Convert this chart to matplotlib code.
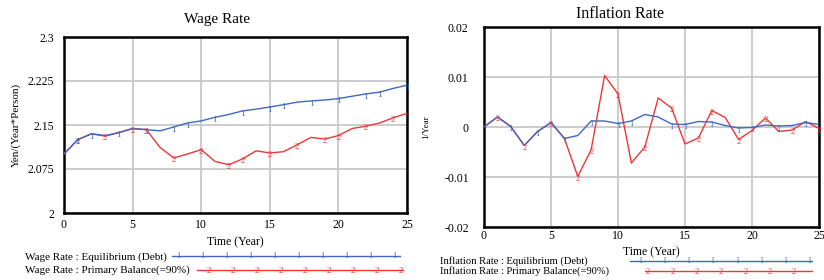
import matplotlib.pyplot as plt
import numpy as np

plt.rcParams['font.family'] = ['Liberation Serif', 'DejaVu Serif']

# data
years = np.arange(0, 26)
wage_eq = [2.1006, 2.125, 2.135, 2.132, 2.137, 2.144, 2.142, 2.140, 2.1466, 2.1534,
           2.157, 2.163, 2.168, 2.1739, 2.177, 2.1807, 2.1846, 2.189, 2.191, 2.1926,
           2.195, 2.199, 2.203, 2.206, 2.2124, 2.218]
wage_pb = [2.1006, 2.125, 2.135, 2.131, 2.137, 2.144, 2.142, 2.1118, 2.0937, 2.1006,
           2.1079, 2.088, 2.0823, 2.092, 2.106, 2.1023, 2.1045, 2.1164, 2.1289, 2.126,
           2.132, 2.144, 2.148, 2.1534, 2.1624, 2.1698]
infl_eq = [0.0, 0.0020, 0.0001, -0.0037, -0.0009, 0.0009, -0.0023, -0.0017, 0.0012, 0.0012,
           0.0007, 0.0012, 0.0025, 0.0020, 0.0006, 0.0005, 0.0011, 0.0010, 0.0003, -0.0002,
           -0.0001, 0.0004, 0.0002, 0.0003, 0.0009, 0.0005]
infl_pb = [0.0, 0.0020, 0.0001, -0.0037, -0.0009, 0.0009, -0.0023, -0.0099, -0.0045, 0.0103,
           0.0066, -0.0072, -0.0040, 0.0058, 0.0038, -0.0034, -0.0022, 0.0033, 0.0019, -0.0025,
           -0.0007, 0.0018, -0.0009, -0.0006, 0.0011, -0.0003]

# which points carry the "1" / "2" labels
wage_eq_marks = [1, 2, 4, 6, 8, 9, 11, 13, 15, 16, 18, 20, 22, 23, 25]
wage_pb_marks = [1, 3, 5, 6, 8, 10, 12, 13, 15, 17, 19, 20, 22, 24]
infl_eq_marks = [2, 4, 6, 8, 10, 11, 14, 15, 17, 19, 20, 22, 24]
infl_pb_marks = [1, 3, 5, 7, 8, 10, 12, 14, 16, 17, 19, 21, 23, 25]

wage_ticks = [2, 2.075, 2.15, 2.225, 2.3]
wage_ticklabels = ['2', '2.075', '2.15', '2.225', '2.3']
infl_ticks = [-0.02, -0.01, 0, 0.01, 0.02]
infl_ticklabels = ['-0.02', '-0.01', '0', '0.01', '0.02']

BLUE = '#3f68c0'
RED = '#f03535'
GRID = '#c8c8c8'

W, H = 824, 280
fig = plt.figure(figsize=(W / 100, H / 100), dpi=100)


def px_axes(x0, y0, x1, y1):
    return fig.add_axes([x0 / W, 1 - y1 / H, (x1 - x0) / W, (y1 - y0) / H])


def style(ax, ticks, ticklabels, ylim, tick_fs, pad_y, pad_x):
    ax.set_xlim(0, 25)
    ax.set_ylim(*ylim)
    ax.set_xticks([0, 5, 10, 15, 20, 25])
    ax.set_yticks(ticks)
    ax.set_yticklabels(ticklabels)
    ax.grid(True, color=GRID, linewidth=1.3)
    ax.set_axisbelow(True)
    ax.tick_params(length=0, labelsize=tick_fs)
    ax.tick_params(axis='y', pad=pad_y)
    ax.tick_params(axis='x', pad=pad_x)
    for s in ax.spines.values():
        s.set_linewidth(1.8)
        s.set_color('black')


def draw_series(ax, y, marks, color, label, fs, dy):
    ax.plot(years, y, color=color, linewidth=1.0, zorder=3)
    for i in marks:
        ax.annotate(label, (years[i], y[i]), xytext=(0, dy), textcoords='offset points',
                    ha='center', va='center', fontsize=fs, color=color, zorder=4)


# Wage Rate
ax1 = px_axes(64, 37, 407, 213)
style(ax1, wage_ticks, wage_ticklabels, (2, 2.3), 8.5, 7, 4)
draw_series(ax1, wage_pb, wage_pb_marks, RED, '2', 6.5, -1.5)
draw_series(ax1, wage_eq, wage_eq_marks, BLUE, '1', 6.5, -2)
ax1.set_xlabel('Time (Year)', fontsize=8.5, labelpad=4)
ax1.set_ylabel('Yen/(Year*Person)', fontsize=8, labelpad=5)
fig.text(217 / W, 1 - 20 / H, 'Wage Rate', fontsize=11, ha='center', va='center')

# Inflation Rate
ax2 = px_axes(484, 27, 819, 227)
style(ax2, infl_ticks, infl_ticklabels, (-0.02, 0.02), 8.5, 11, 2)
draw_series(ax2, infl_pb, infl_pb_marks, RED, '2', 6, -1.5)
draw_series(ax2, infl_eq, infl_eq_marks, BLUE, '1', 6, -2)
ax2.set_xlabel('Time (Year)', fontsize=8.5, labelpad=3)
ax2.set_ylabel('1/Year', fontsize=6.5, labelpad=10)
fig.text(620 / W, 1 - 14 / H, 'Inflation Rate', fontsize=11.5, ha='center', va='center')

# legends, drawn in pixel space
leg = fig.add_axes([0, 0, 1, 1])
leg.set_xlim(0, W)
leg.set_ylim(H, 0)
leg.axis('off')
leg.patch.set_alpha(0)

leg.text(25, 257, 'Wage Rate : Equilibrium (Debt)', fontsize=8, va='center')
leg.text(25, 270, 'Wage Rate : Primary Balance(=90%)', fontsize=8, va='center')
leg.plot([172, 400], [256, 256], color=BLUE, linewidth=1.0)
for x in range(178, 400, 24):
    leg.text(x, 256, '1', fontsize=6, color=BLUE, ha='center', va='center')
leg.plot([197, 403], [270, 270], color=RED, linewidth=1.0)
for x in range(209, 404, 24):
    leg.text(x, 271, '2', fontsize=6.5, color=RED, ha='center', va='center')

leg.text(440, 261, 'Inflation Rate : Equilibrium (Debt)', fontsize=7.6, va='center')
leg.text(440, 271, 'Inflation Rate : Primary Balance(=90%)', fontsize=7.6, va='center')
leg.plot([630, 812], [261, 261], color=BLUE, linewidth=1.0)
for x in np.arange(640, 812, 24.2):
    leg.text(x, 261, '1', fontsize=5.5, color=BLUE, ha='center', va='center')
leg.plot([645, 812], [270.5, 270.5], color=RED, linewidth=1.0)
for x in np.arange(648, 800, 24.3):
    leg.text(x, 272, '2', fontsize=6, color=RED, ha='center', va='center')

fig.savefig('out.png', dpi=100)
